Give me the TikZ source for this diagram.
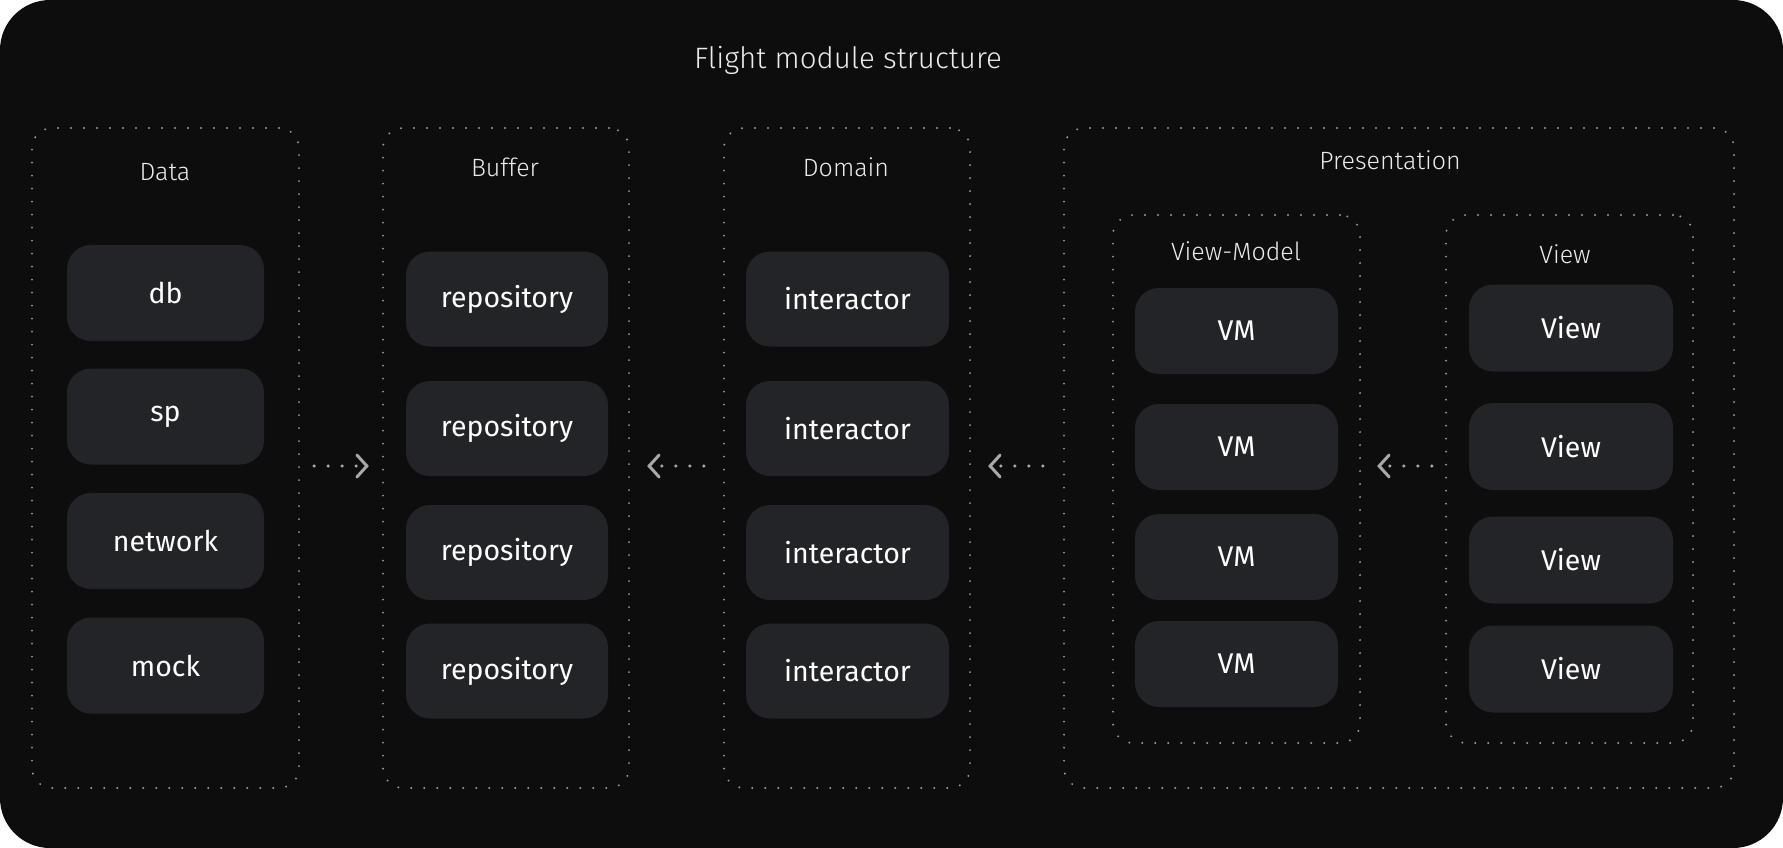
\documentclass[tikz,border=0pt]{standalone}
\usepackage{fontspec}
\setmainfont{Fira Sans}
\newfontfamily\thinfont{Fira Sans Light}
\usetikzlibrary{arrows.meta,positioning}
\definecolor{bgdark}{HTML}{0D0D0D}
\definecolor{boxfill}{HTML}{232428}
\definecolor{dotgray}{HTML}{9A9A9A}
\definecolor{arrowgray}{HTML}{A8A8A8}
\tikzset{
  group/.style={draw=dotgray, line width=2.2pt, rounded corners=20pt,
    dash pattern=on 0pt off 13pt, line cap=round, inner sep=0pt},
  item/.style={fill=boxfill, rounded corners=24pt, text=white, inner sep=0pt,
    font=\fontsize{28.5}{33}\selectfont},
  heading/.style={text=white!92!black, font=\thinfont\fontsize{25}{30}\selectfont},
  flow/.style={draw=arrowgray, line width=3.5pt, dash pattern=on 0pt off 14pt,
    line cap=round, -{Straight Barb[length=10pt, width=22pt, line width=3pt, line cap=round]}},
}

\begin{document}
\begin{tikzpicture}[x=1pt, y=-1pt]
    % Background
    \fill[white] (0,0) rectangle (1783,848);
    \fill[bgdark, rounded corners=50pt] (0,0) rectangle (1783,848);

    % Title
    \node[text=white!92!black, font=\thinfont\fontsize{29.5}{34}\selectfont] (title) at (848,60) {Flight module structure};

    % Layers
    \node[group, minimum width=267pt, minimum height=660pt] (data) at (165.5,458) {};
    \node[group, minimum width=246pt, minimum height=660pt] (buffer) at (506,458) {};
    \node[group, minimum width=246pt, minimum height=660pt] (domain) at (847,458) {};
    \node[group, minimum width=670pt, minimum height=660pt] (pres) at (1399,458) {};
    \node[group, minimum width=247pt, minimum height=528pt] (vmgroup) at (1236.5,479) {};
    \node[group, minimum width=247pt, minimum height=528pt] (viewgroup) at (1569.5,479) {};

    % Layer labels
    \node[heading] at (165,172) {Data};
    \node[heading] at (505,167) {Buffer};
    \node[heading] at (846,167) {Domain};
    \node[heading] at (1390,160) {Presentation};
    \node[heading] at (1236,251) {View-Model};
    \node[heading] at (1565,254) {View};

    % Data sources
    \node[item, minimum width=197pt, minimum height=96pt] (db) at (165.5,293) {db};
    \node[item, minimum width=197pt, minimum height=96pt] (sp) at (165.5,416.5) {sp};
    \node[item, minimum width=197pt, minimum height=96pt] (network) at (165.5,541) {network};
    \node[item, minimum width=197pt, minimum height=96pt] (mock) at (165.5,665.5) {mock};

    % Repositories and interactors
    \foreach \y [count=\i] in {299,428.5,552.5,671} {
        \node[item, minimum width=202pt, minimum height=95pt] (repo\i) at (507,\y) {repository};
        \node[item, minimum width=203pt, minimum height=95pt] (int\i) at (847.5,\y) {interactor};
    }

    % View-models
    \foreach \y [count=\i] in {331,447,557,664}
        \node[item, minimum width=203pt, minimum height=86pt] (vm\i) at (1236.5,\y) {VM};

    % Views
    \foreach \y [count=\i] in {328,446.5,560,669}
        \node[item, minimum width=204pt, minimum height=87pt] (view\i) at (1571,\y) {View};

    % Dependencies
    \draw[flow, shorten <=14pt, shorten >=13pt] (data.east |- 0,466) -- (buffer.west |- 0,466);
    \draw[flow, shorten <=19pt, shorten >=17pt] (domain.west |- 0,466) -- (buffer.east |- 0,466);
    \draw[flow, shorten <=20pt, shorten >=17pt] (pres.west |- 0,466) -- (domain.east |- 0,466);
    \draw[flow, shorten <=13pt, shorten >=16pt] (viewgroup.west |- 0,466) -- (vmgroup.east |- 0,466);
\end{tikzpicture}
\end{document}
